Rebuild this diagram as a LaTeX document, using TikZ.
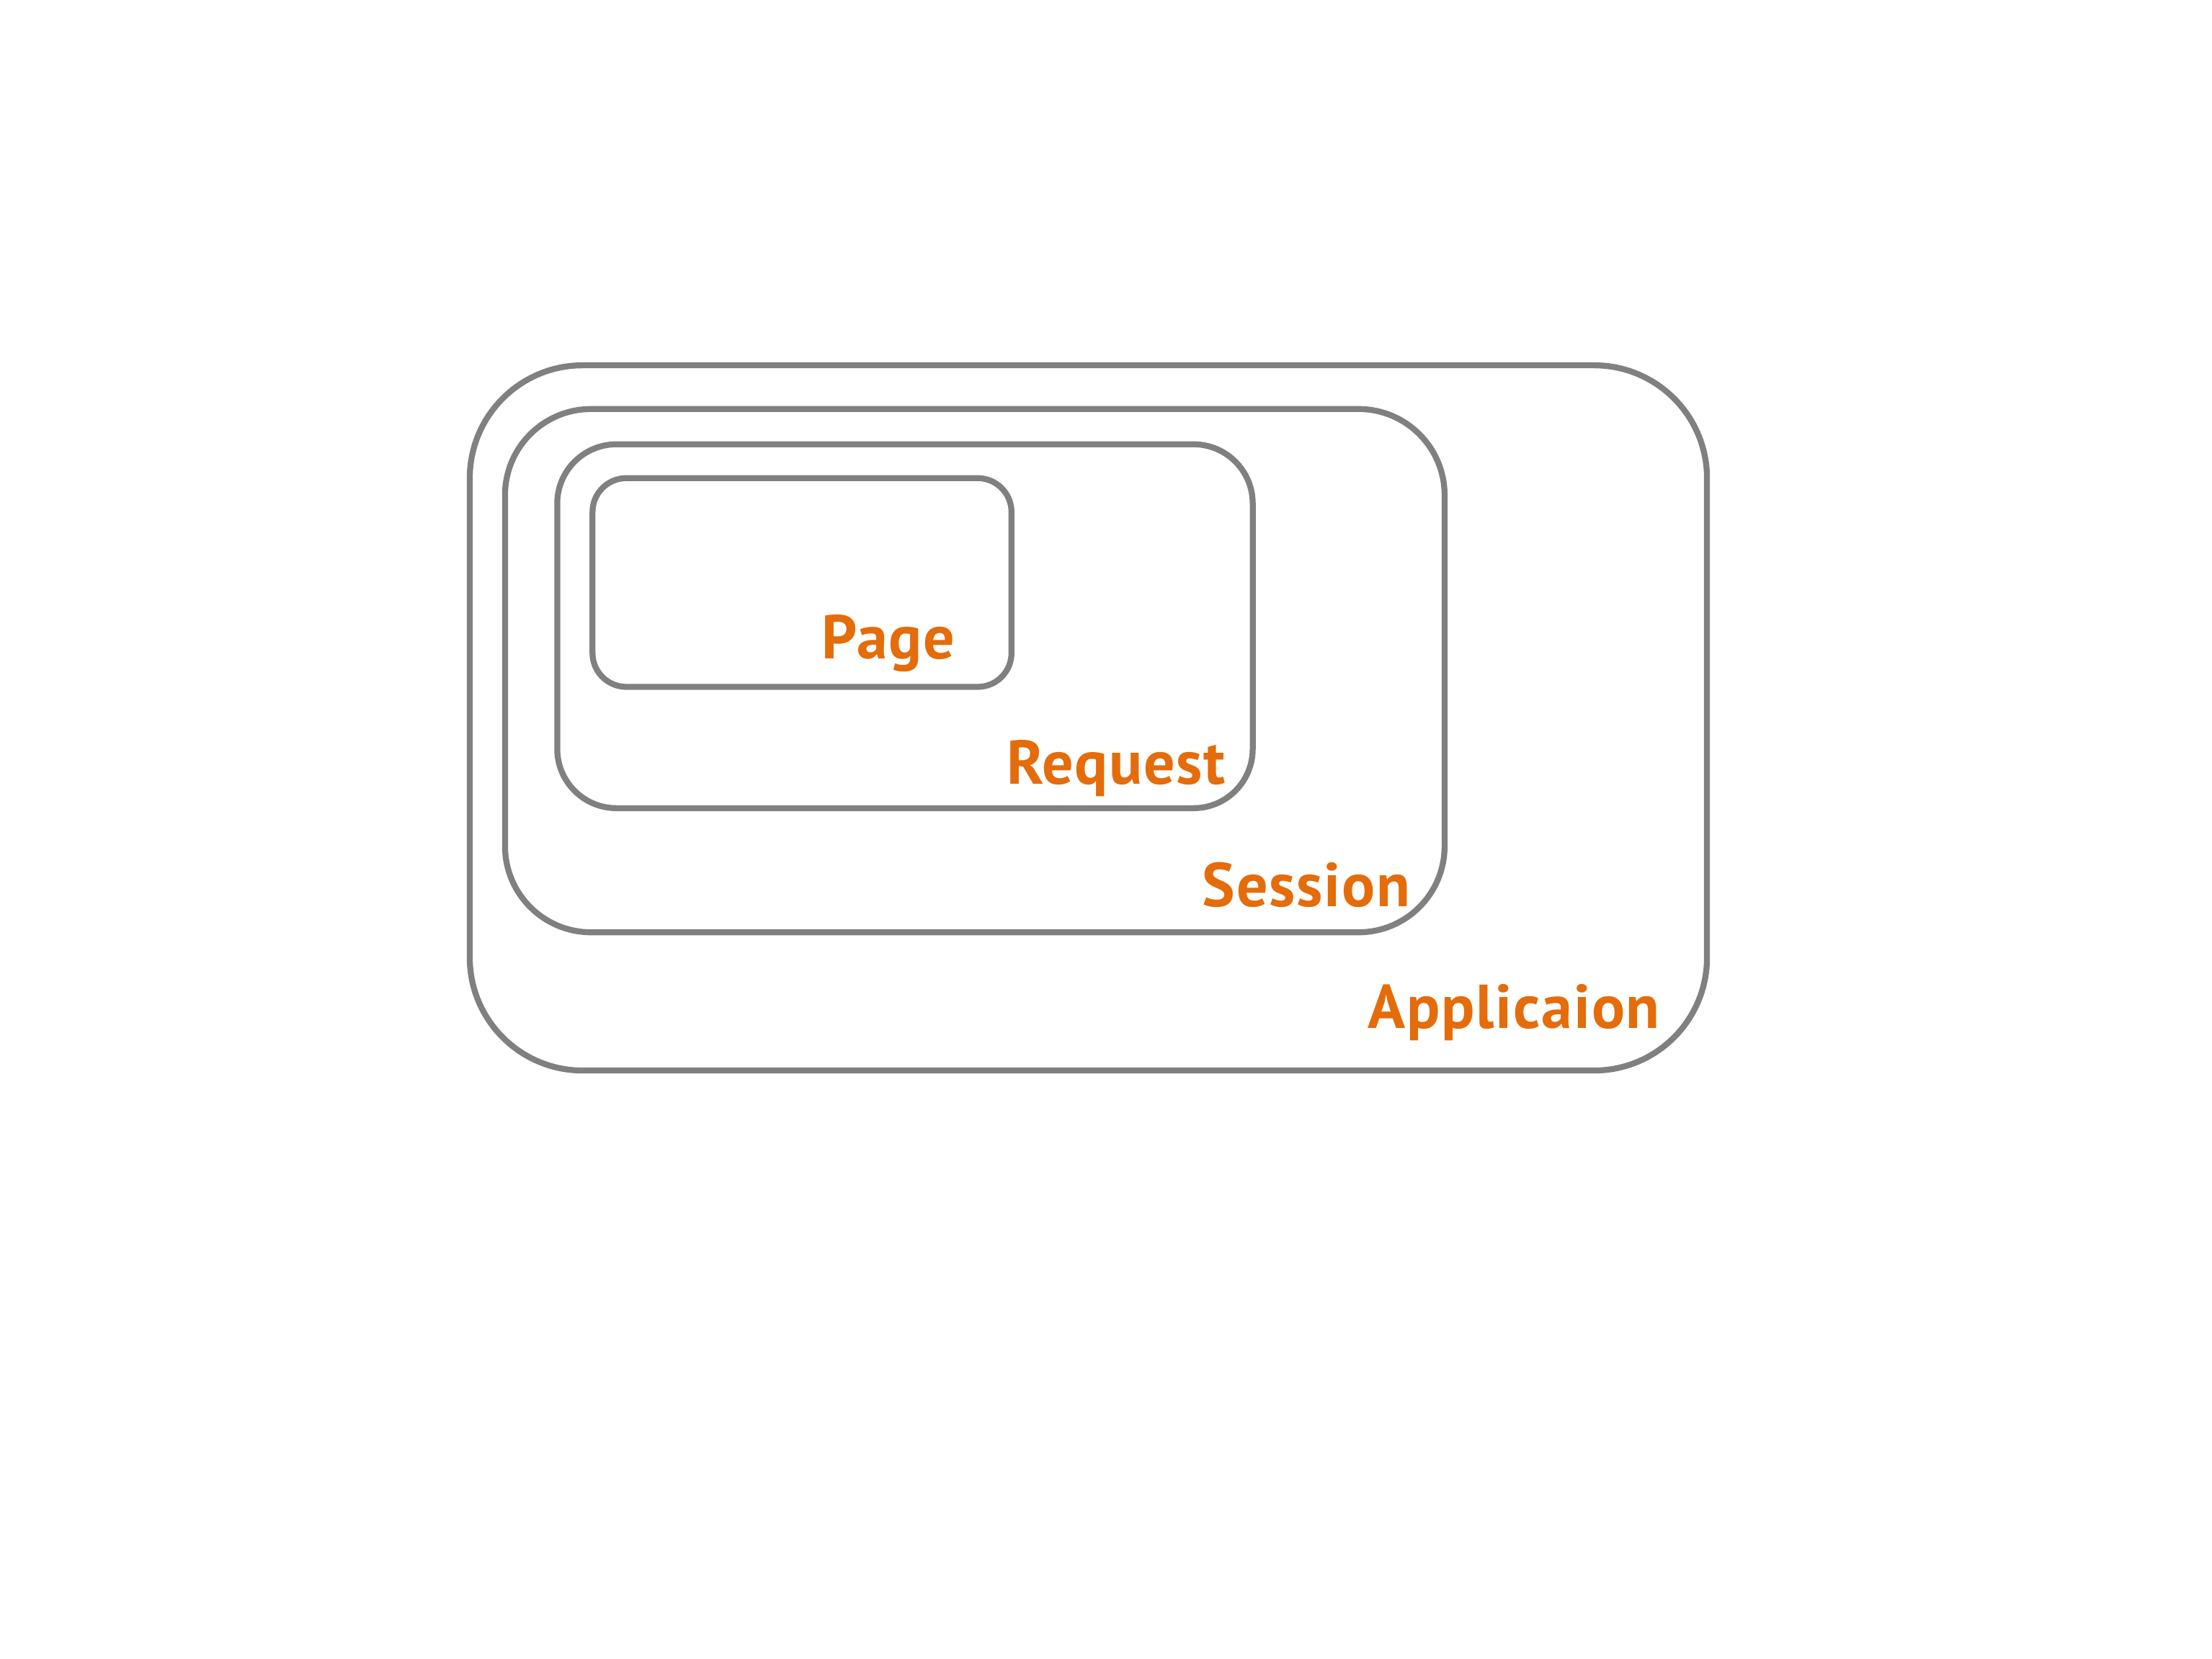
\documentclass[tikz,border=0pt]{standalone}
\usepackage{fontspec}
\newfontfamily\lblfont{PT Sans}[LetterSpace=2]
\definecolor{scopeorange}{RGB}{228,108,10}
\definecolor{scopegray}{RGB}{128,128,128}
\tikzset{
  scopebox/.style={draw=scopegray,line width=2.4pt},
  scopelbl/.style={text=scopeorange,font=\lblfont\bfseries\fontsize{25}{30}\selectfont,inner sep=0pt,anchor=base east}
}
\begin{document}
\begin{tikzpicture}[x=0.02cm,y=-0.02cm]
                \useasboundingbox (0,0) rectangle (1568,1176);
                \draw[scopebox,rounded corners=1.6cm] (333,259) rectangle (1210,759);
                \draw[scopebox,rounded corners=1.22cm] (358,290) rectangle (1024,661);
                \draw[scopebox,rounded corners=0.84cm] (395,315) rectangle (888,573);
                \draw[scopebox,rounded corners=0.48cm] (420,339) rectangle (717,487);
                \node[scopelbl] (page) at (677,467) {Page};
                \node[scopelbl] (request) at (869,556) {Request};
                \node[scopelbl] (session) at (1000,643) {Session};
                \node[scopelbl] (app) at (1177,729) {Applicaion};
            \end{tikzpicture}
\end{document}
